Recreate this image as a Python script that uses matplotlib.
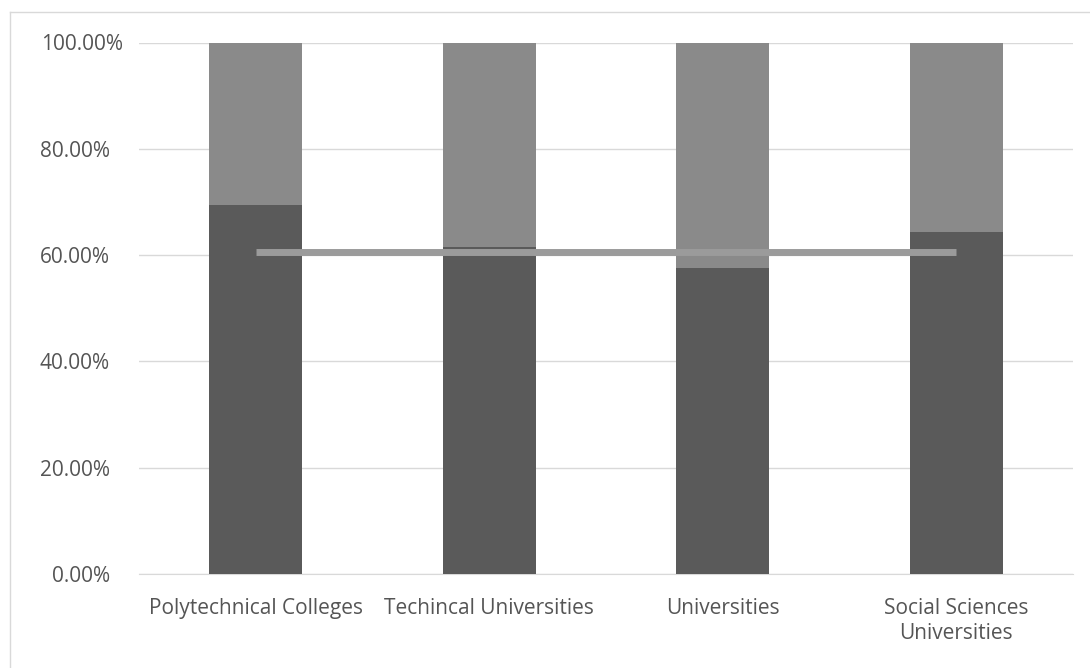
import matplotlib
matplotlib.use("Agg")
import matplotlib.pyplot as plt
from matplotlib.lines import Line2D
from matplotlib.transforms import ScaledTranslation

# Share of each institution type (percent), remainder stacked on top
categories = ["Polytechnical Colleges", "Techincal Universities", "Universities",
              "Social Sciences\nUniversities"]
share = [69.4, 61.6, 57.6, 64.4]
remainder = [100 - v for v in share]
overall_average = [60.6, 60.6, 60.6, 60.6]
yticks = [0, 20, 40, 60, 80, 100]
ytick_labels = ["0.00%", "20.00%", "40.00%", "60.00%", "80.00%", "100.00%"]

plt.rcParams["font.family"] = ["Open Sans", "DejaVu Sans"]
text_color = "#555555"

fig = plt.figure(figsize=(10.9, 6.68), dpi=100)
ax = fig.add_axes([139 / 1090, 1 - 574 / 668, (1073 - 139) / 1090, (574 - 42.5) / 668])

x = list(range(len(categories)))
ax.bar(x, share, width=0.4, color="#5a5a5a", zorder=2)
ax.bar(x, remainder, width=0.4, bottom=share, color="#8a8a8a", zorder=2)
ax.plot(x, overall_average, color="#9b9b9b", linewidth=5, solid_capstyle="butt", zorder=3)

ax.set_xlim(-0.5, len(categories) - 0.5)
ax.set_ylim(0, 100)
ax.set_yticks(yticks)
ax.set_yticklabels(ytick_labels)
ax.set_xticks(x)
ax.set_xticklabels(categories, linespacing=1.25)
ax.tick_params(axis="y", length=0, pad=21, labelsize=15, colors=text_color)
ax.tick_params(axis="x", length=0, pad=17, labelsize=15, colors=text_color)
ax.grid(axis="y", color="#d9d9d9", linewidth=1, zorder=0)
for side in ["top", "right", "left"]:
    ax.spines[side].set_visible(False)
ax.spines["bottom"].set_color("#d9d9d9")
ax.spines["bottom"].set_zorder(1)

# The widest y label sits closer to the axis
top_label = ax.yaxis.get_major_ticks()[-1].label1
top_label.set_transform(top_label.get_transform()
                        + ScaledTranslation(13 / 100, 0, fig.dpi_scale_trans))

# Frame around the chart area (left and top edges)
fig.add_artist(Line2D([10 / 1090, 10 / 1090], [0, 1 - 12 / 668],
                      transform=fig.transFigure, color="#d9d9d9", linewidth=1))
fig.add_artist(Line2D([10 / 1090, 1], [1 - 12 / 668, 1 - 12 / 668],
                      transform=fig.transFigure, color="#d9d9d9", linewidth=1))

fig.savefig("out.png", dpi=100)
